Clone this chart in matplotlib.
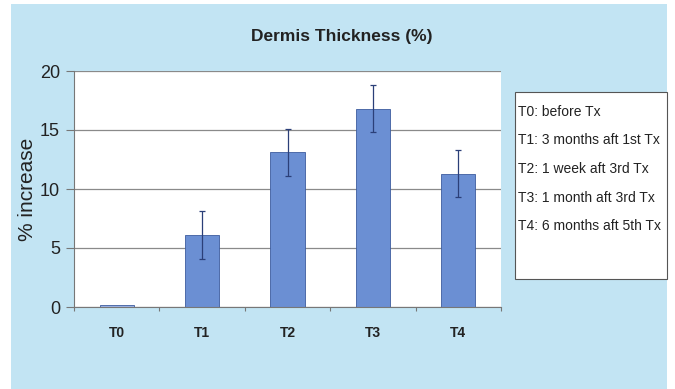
import matplotlib
matplotlib.use("Agg")
import matplotlib.pyplot as plt
import numpy as np
from matplotlib.patches import Rectangle

# data
categories = ["T0", "T1", "T2", "T3", "T4"]
increase = [0.2, 6.1, 13.1, 16.8, 11.3]
errors = [0.0, 2.0, 2.0, 2.0, 2.0]
notes = [
    "T0: before Tx",
    "T1: 3 months aft 1st Tx",
    "T2: 1 week aft 3rd Tx",
    "T3: 1 month aft 3rd Tx",
    "T4: 6 months aft 5th Tx",
]
y_ticks = [0, 5, 10, 15, 20]

W, H = 675, 389
BG = "#c2e4f3"
BAR = "#6b8fd3"
BAR_EDGE = "#3d5c9e"

plt.rcParams["font.family"] = ["Liberation Sans", "DejaVu Sans"]

fig = plt.figure(figsize=(W / 100, H / 100), dpi=100, facecolor="white")
fig.patches.append(
    Rectangle((11 / W, 0), (667 - 11) / W, (H - 4) / H,
              transform=fig.transFigure, facecolor=BG, edgecolor="none", zorder=-5)
)

ax = fig.add_axes([74 / W, (H - 307) / H, 427 / W, 236 / H])
ax.set_zorder(5)
ax.set_facecolor("white")

x = np.arange(len(categories))
colors = ["#9db3e6"] + [BAR] * (len(categories) - 1)
ax.bar(x, increase, width=0.4, color=colors, edgecolor=BAR_EDGE, linewidth=0.6, zorder=2)
ax.errorbar(x[1:], increase[1:], yerr=errors[1:], fmt="none", ecolor="#2b3f78",
            elinewidth=0.9, capsize=2.5, capthick=0.9, zorder=3)

ax.set_xlim(-0.5, len(categories) - 0.5)
ax.set_ylim(0, 20)
ax.set_yticks(y_ticks)
ax.set_yticklabels([str(v) for v in y_ticks], fontsize=13, color="#222222")
ax.yaxis.grid(True, color="#8a8a8a", linewidth=0.9, zorder=1)
ax.set_axisbelow(True)

# category labels between boundary ticks, Excel style
ax.set_xticks(np.arange(len(categories) + 1) - 0.5)
ax.set_xticklabels([])
ax.set_xticks(x, minor=True)
ax.set_xticklabels(categories, minor=True, fontsize=10, fontweight="bold", color="#222222")
ax.tick_params(axis="x", which="major", length=3, color="#777777")
ax.tick_params(axis="x", which="minor", length=0, pad=14)
ax.tick_params(axis="y", length=6, color="#777777", pad=4)

for side in ["top", "right"]:
    ax.spines[side].set_visible(False)
ax.spines["left"].set_color("#777777")
ax.spines["bottom"].set_color("#777777")

ax.set_ylabel("% increase", fontsize=15, color="#222222", labelpad=2)

fig.text(342 / W, 1 - 37 / H, "Dermis Thickness (%)", ha="center", va="center",
         fontsize=12.5, fontweight="bold", color="#222222")

# side box with the time point notes
fig.patches.append(
    Rectangle((515 / W, 1 - 279 / H), (667 - 515) / W, (279 - 92) / H,
              transform=fig.transFigure, facecolor="white", edgecolor="#555555",
              linewidth=0.8, zorder=1)
)
for i, note in enumerate(notes):
    fig.text(518 / W, 1 - (112 + i * 28.5) / H, note, ha="left", va="center",
             fontsize=10, color="#222222",
             family=["Liberation Sans Narrow", "Liberation Sans", "DejaVu Sans"])

fig.savefig("out.png", dpi=100, facecolor=fig.get_facecolor())
